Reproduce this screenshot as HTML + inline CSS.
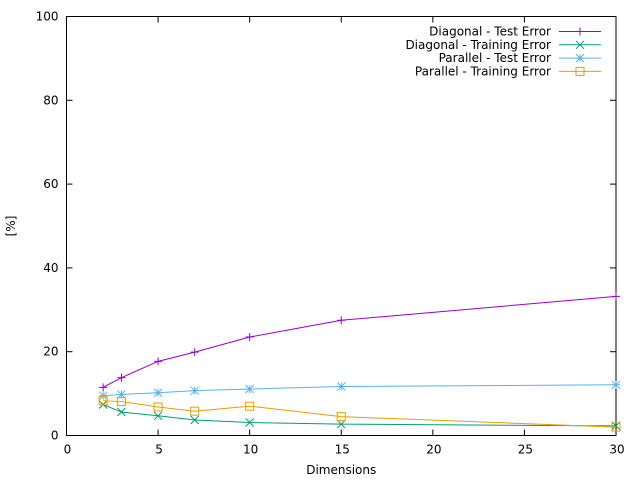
<!DOCTYPE html>
<html><head><meta charset="utf-8"><style>body{margin:0;background:#fff}svg{display:block;font-family:"DejaVu Sans",sans-serif;font-size:12px}</style></head>
<body>
<svg id="c" width="640" height="480"></svg>
<script>
const dims=[2,3,5,7,10,15,30];
const diagTest=[11.5,13.8,17.7,19.9,23.5,27.5,33.2];
const diagTrain=[7.4,5.6,4.7,3.7,3.1,2.7,2.3];
const parTest=[9.5,9.8,10.2,10.7,11.1,11.7,12.1];
const parTrain=[8.3,8.1,6.8,5.8,7.0,4.5,2.0];
const xTicks=[0,5,10,15,20,25,30];
const yTicks=[0,20,40,60,80,100];
const NS="http://www.w3.org/2000/svg",svg=document.getElementById('c');
const X0=66.5,X1=616,Y0=435.5,Y1=16.5;
const sx=v=>X0+(v-0)/(30-0)*(X1-X0), sy=v=>Y0-(v-0)/(100-0)*(Y0-Y1);
function mk(t,a,p){const e=document.createElementNS(NS,t);for(const k in a)e.setAttribute(k,a[k]);(p||svg).appendChild(e);return e;}
const frame=mk('rect',{x:X0,y:Y1,width:X1-X0,height:Y0-Y1,fill:'none',stroke:'#000','stroke-width':1});


xTicks.forEach(v=>{const x=sx(v);
 mk('line',{x1:x,y1:Y0,x2:x,y2:Y0-6,stroke:'#000'});mk('line',{x1:x,y1:Y1,x2:x,y2:Y1+6,stroke:'#000'});
 const t=mk('text',{x:x+1,y:Y0+18,'text-anchor':'middle'});t.textContent=v;
 
 });
yTicks.forEach(v=>{const y=sy(v);
 mk('line',{x1:X0,y1:y,x2:X0+6,y2:y,stroke:'#000'});mk('line',{x1:X1,y1:y,x2:X1-6,y2:y,stroke:'#000'});
 const t=mk('text',{x:X0-8,y:y+4,'text-anchor':'end'});t.textContent=v;
 
 });
const xt=mk('text',{x:(X0+X1)/2,y:474,'text-anchor':'middle'});xt.textContent='Dimensions';


const yt=mk('text',{x:15,y:226,'text-anchor':'middle',transform:'rotate(-90 15 226)'});yt.textContent='[%]';


function marker(g,type,x,y,c){const r=4;
 if(type==='plus'){mk('path',{d:`M${x-r} ${y}H${x+r}M${x} ${y-r}V${y+r}`,stroke:c,fill:'none'},g);}
 else if(type==='x'){mk('path',{d:`M${x-r} ${y-r}L${x+r} ${y+r}M${x-r} ${y+r}L${x+r} ${y-r}`,stroke:c,fill:'none'},g);}
 else if(type==='star'){mk('path',{d:`M${x-r} ${y}H${x+r}M${x} ${y-r}V${y+r}M${x-r} ${y-r}L${x+r} ${y+r}M${x-r} ${y+r}L${x+r} ${y-r}`,stroke:c,fill:'none'},g);}
 else mk('rect',{x:x-r,y:y-r,width:2*r,height:2*r,stroke:c,fill:'none'},g);}
const series=[["Diagonal - Test Error",diagTest,'#9400d3','plus','series-diagonal-test'],
["Diagonal - Training Error",diagTrain,'#009e73','x','series-diagonal-training'],
["Parallel - Test Error",parTest,'#56b4e9','star','series-parallel-test'],
["Parallel - Training Error",parTrain,'#e69f00','square','series-parallel-training']];
series.forEach((s,i)=>{const g=mk('g',{});
 
 
 mk('polyline',{points:dims.map((d,j)=>sx(d)+','+sy(s[1][j])).join(' '),fill:'none',stroke:s[2],'stroke-width':1},g);
 dims.forEach((d,j)=>marker(g,s[3],sx(d),sy(s[1][j]),s[2]));
 const ly=31.5+i*13.3;const lg=mk('g',{});
 
 
 const t=mk('text',{x:551,y:ly+4,'text-anchor':'end'},lg);t.textContent=s[0];
 mk('line',{x1:559,y1:ly,x2:601,y2:ly,stroke:s[2]},lg);marker(lg,s[3],580,ly,s[2]);});
</script>
</body></html>
